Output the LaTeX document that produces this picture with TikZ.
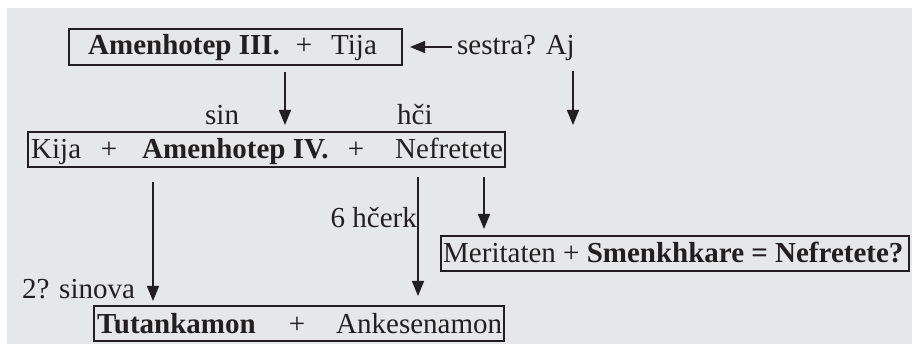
\documentclass[tikz,border=0pt]{standalone}
\usepackage{fontspec}
\setmainfont{Liberation Serif}
\usetikzlibrary{arrows.meta,calc}
\definecolor{bggray}{HTML}{E6E7E8}
\definecolor{ink}{HTML}{231F20}
\begin{document}
\begin{tikzpicture}[x=1pt,y=-1pt,
  txt/.style={inner sep=0pt, anchor=base west, text=ink, font=\fontsize{29}{34}\selectfont},
  plus/.style={inner sep=0pt, anchor=base, text=ink, font=\fontsize{29}{34}\selectfont},
  famboxe/.style={draw=ink, line width=2pt, rectangle, inner sep=0pt},
  arr/.style={draw=ink, line width=1.3pt, -{Triangle[length=15pt,width=12pt]}}]
\useasboundingbox (0,0) rectangle (912,352);
\fill[bggray] (7,8) rectangle (912,344);

% boxes
\node[famboxe, minimum width=333pt, minimum height=36pt] (box1) at (235.5,47) {};
\node[famboxe, minimum width=477pt, minimum height=35pt] (box2) at (266.5,149.5) {};
\node[famboxe, minimum width=468pt, minimum height=35pt] (box3) at (675,253.5) {};
\node[famboxe, minimum width=410pt, minimum height=35pt] (box4) at (299,323.5) {};

% row 1
\node[txt] (a3) at (88,55) {\textbf{Amenhotep III.}};
\node[plus] (p1) at (304,55) {+};
\node[txt] (tija) at (331,55) {Tija};
\node[txt] (sestra) at (457,55) {sestra? Aj};

% labels
\node[txt] (sin) at (205,125) {sin};
\node[txt] (hci) at (397,125) {hči};

% row 2
\node[txt] (kija) at (31,159) {Kija};
\node[plus] (p2) at (109,159) {+};
\node[txt] (a4) at (142,159) {\textbf{Amenhotep IV.}};
\node[plus] (p3) at (356,159) {+};
\node[txt] (nef) at (395,159) {Nefretete};

\node[txt, anchor=base east] (hcerk) at (417,228) {6 hčerk};

% row 3
\node[txt] (mer) at (443,263) {Meritaten + \textbf{Smenkhkare = Nefretete?}};
\node[txt] (sinova) at (22,299) {2? sinova};

% row 4
\node[txt] (tut) at (97,333) {\textbf{Tutankamon}};
\node[plus] (p4) at (297,333) {+};
\node[txt] (ank) at (336,333) {Ankesenamon};

% columns
\coordinate (cA) at (285,0);
\coordinate (cB) at (573,0);
\coordinate (cC) at (153,0);
\coordinate (cD) at (418,0);
\coordinate (cE) at (484,0);
\coordinate (sS) at ([xshift=-5pt]sestra.west);
\coordinate (bE) at ([xshift=7pt]box1.east);

% connectors
\draw[arr] (sS |- bE) -- (bE);
\draw[arr] ([yshift=-6pt]box1.south -| cA) -- ([yshift=6pt]box2.north -| cA);
\draw[arr] ([yshift=-10pt]sestra.south -| cB) -- ([yshift=6pt]box2.north -| cB);
\draw[arr] ([yshift=-14pt]box2.south -| cC) -- ([yshift=4pt]box4.north -| cC);
\draw[arr] ([yshift=-9pt]box2.south -| cD) -- ([yshift=9pt]box4.north -| cD);
\draw[arr] ([yshift=-9pt]box2.south -| cE) -- ([yshift=6pt]box3.north -| cE);
\end{tikzpicture}
\end{document}
